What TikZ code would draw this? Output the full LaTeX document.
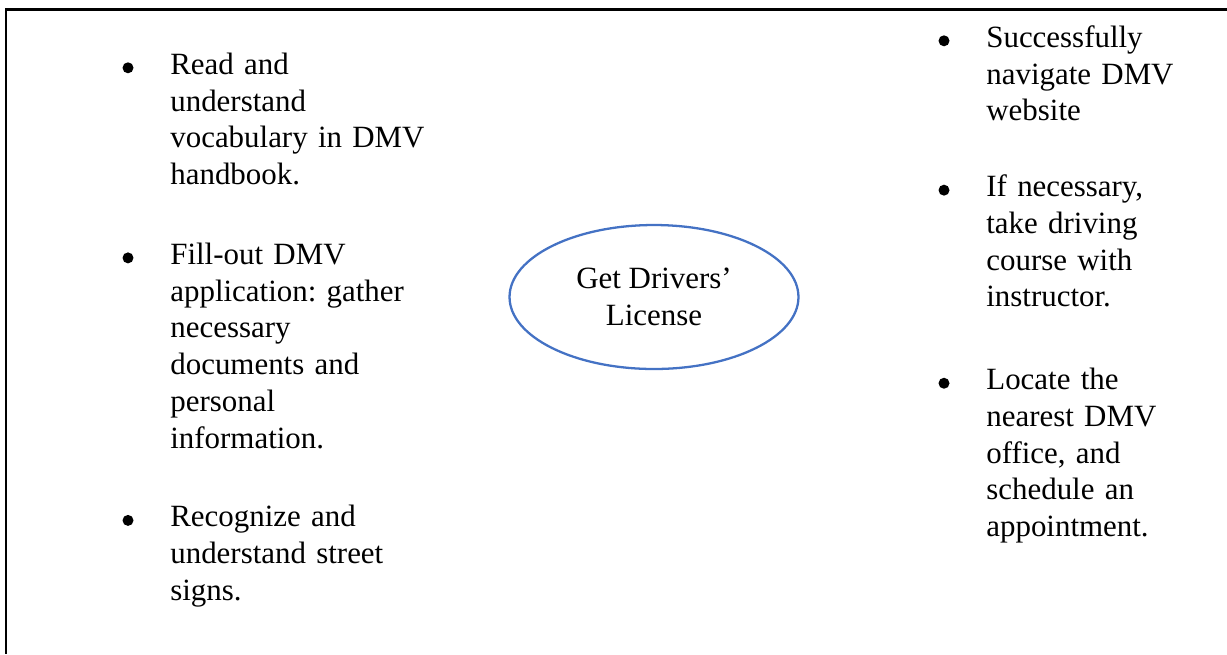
\documentclass[tikz,border=0pt]{standalone}
\usepackage{fontspec}
\setmainfont{Liberation Serif}
\usetikzlibrary{positioning,shapes.geometric}
\definecolor{goalblue}{RGB}{68,114,196}

\tikzset{
  itemtext/.style={anchor=north west, inner sep=0pt, align=left, text width=#1,
    font=\fontsize{17.6pt}{20.9pt}\selectfont\frenchspacing},
  dot/.style={circle, fill=black, inner sep=0pt, minimum size=0.22cm},
  goal/.style={ellipse, draw=goalblue, line width=1.3pt, minimum width=5.78cm,
    minimum height=2.88cm, inner sep=0pt, align=center,
    font=\fontsize{17.6pt}{20.9pt}\selectfont}
}

\begin{document}
\begin{tikzpicture}[x=0.02cm,y=-0.02cm]
\useasboundingbox (0,0) rectangle (1227,654);
% frame, only top and left edge show
\draw[line width=1.5pt] (1227,9.5) -- (6,9.5) -- (6,654);

% left column
\node[itemtext=6cm] (read) at (170,48.3)
  {\strut Read and\\understand\\vocabulary in DMV\\handbook.\strut};
\node[itemtext=6cm, below=0.85cm of read.south west, anchor=north west] (fill)
  {\strut Fill-out DMV\\application: gather\\necessary\\documents and\\personal\\information.\strut};
\node[itemtext=6cm, below=0.83cm of fill.south west, anchor=north west] (signs)
  {\strut Recognize and\\understand street\\signs.\strut};

% right column
\node[itemtext=4.5cm] (web) at (986,21.3)
  {\strut Successfully\\navigate DMV\\website\strut};
\node[itemtext=4.5cm, below=0.77cm of web.south west, anchor=north west] (course)
  {\strut If necessary,\\take driving\\course with\\instructor.\strut};
\node[itemtext=4.5cm, below=0.91cm of course.south west, anchor=north west] (office)
  {\strut Locate the\\nearest DMV\\office, and\\schedule an\\appointment.\strut};

% bullets
\foreach \it in {read,fill,signs,web,course,office}
  \node[dot] (\it dot) at ([shift={(-42,19.5)}]\it.north west) {};

% the goal in the middle
\node[goal] (goal) at (654,297) {Get Drivers’\\License};
\end{tikzpicture}
\end{document}
